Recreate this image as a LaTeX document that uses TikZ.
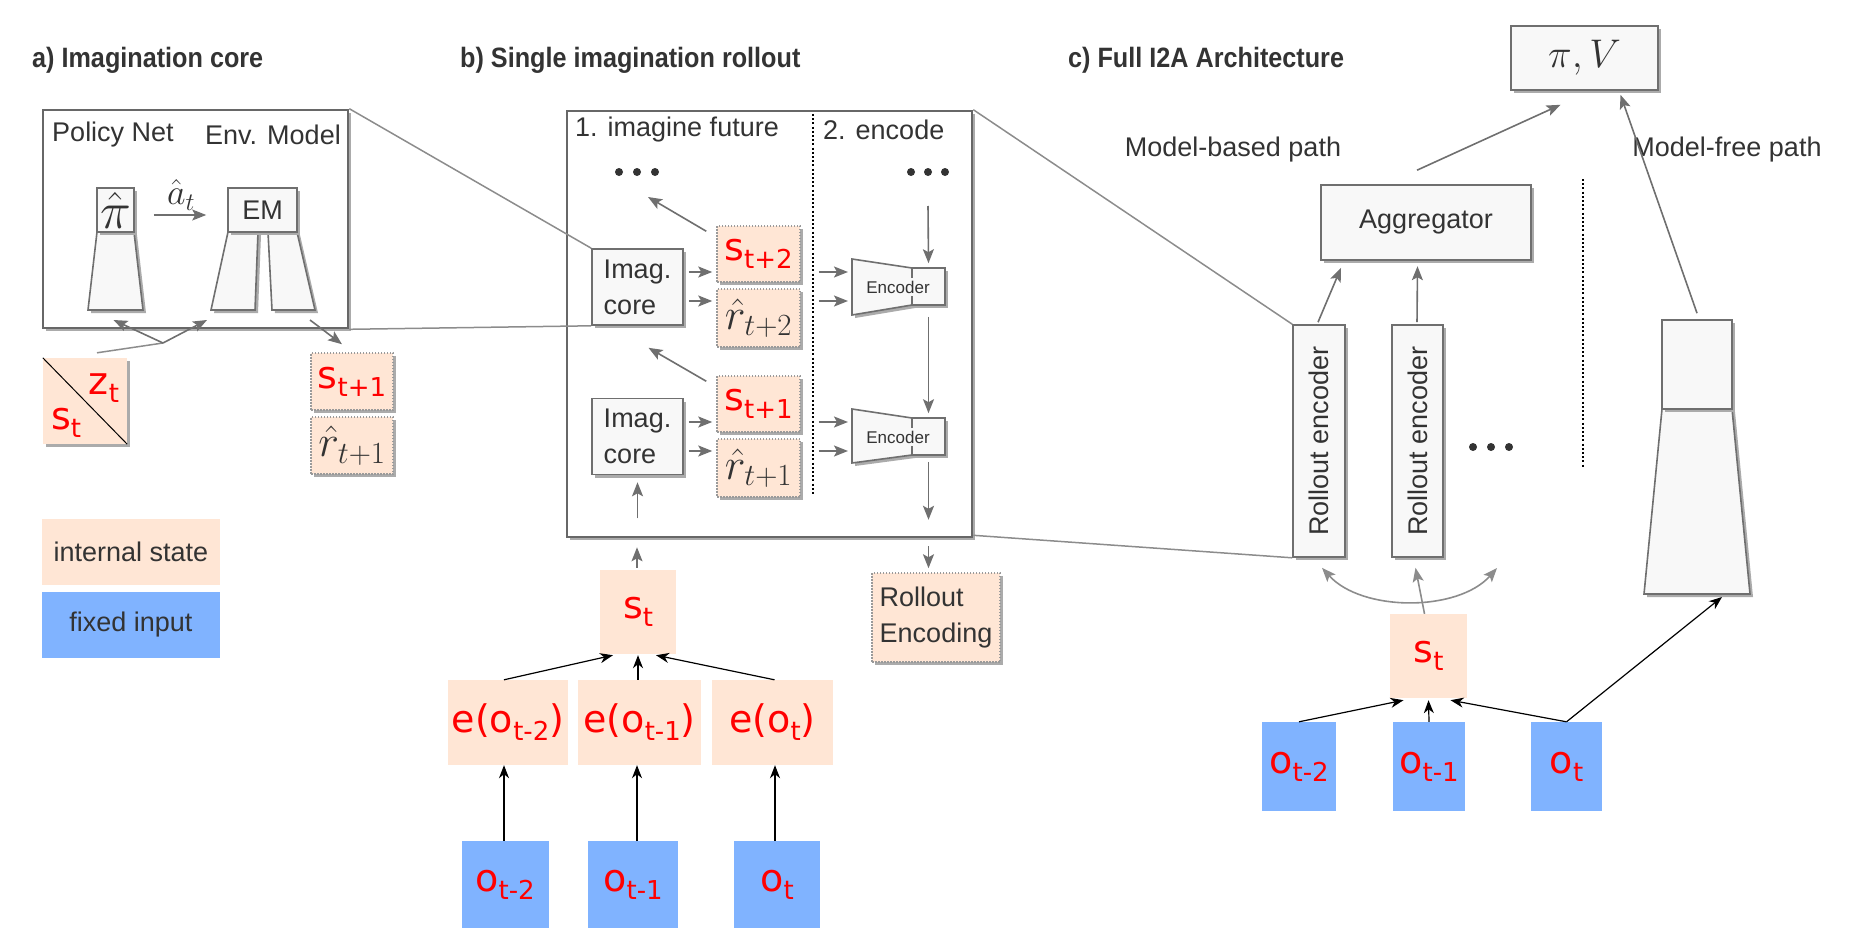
\RequirePackage{fix-cm}
\documentclass[tikz,border=0pt]{standalone}
\usepackage[no-math]{fontspec}
\setmainfont{Liberation Sans}
\newfontfamily\redfont{DejaVu Sans}
\newfontfamily\titlefont{Liberation Sans}[FakeStretch=0.9]
\usetikzlibrary{arrows.meta,shadows,calc}
\definecolor{peach}{HTML}{FFE6D5}
\definecolor{fixblue}{HTML}{80B3FF}
\definecolor{bxfill}{HTML}{F8F8F8}
\definecolor{bxline}{HTML}{6F6F6F}
\definecolor{framegray}{HTML}{676767}
\definecolor{linkgray}{HTML}{8C8C8C}
\definecolor{dotgray}{HTML}{9A9A9A}
\definecolor{shadowgray}{HTML}{ABABAB}
\definecolor{txt}{HTML}{333333}
\definecolor{redlab}{HTML}{FF0000}
\newcommand\rsub[1]{\raisebox{-8pt}{\fontsize{26}{26}\selectfont #1}}
\newcommand\rlab{\redfont\fontsize{38}{40}\selectfont\color{redlab}}
\begin{document}
\begin{tikzpicture}[x=1pt,y=-1pt,
  myshadow/.style={general shadow={shadow xshift=3pt,shadow yshift=-3pt,fill=shadowgray}},
  graybox/.style={draw=bxline,line width=1.6pt,fill=bxfill,myshadow,inner sep=0pt,text=txt,font=\fontsize{27}{32}\selectfont},
  trap/.style={draw=bxline,line width=1.6pt,fill=bxfill,myshadow},
  bigframe/.style={draw=framegray,line width=2.6pt,fill=white,myshadow,inner sep=0pt},
  dotbox/.style={draw=dotgray,line width=1.5pt,dash pattern=on 1.5pt off 1.5pt,fill=peach,myshadow,inner sep=0pt},
  peachbox/.style={fill=peach,inner sep=0pt},
  bluebox/.style={fill=fixblue,inner sep=0pt},
  lbl/.style={text=txt,font=\fontsize{27}{32}\selectfont,inner sep=0pt},
  ttl/.style={text=txt,font=\titlefont\bfseries\fontsize{28}{32}\selectfont,inner sep=0pt,anchor=west},
  garrow/.style={draw=bxline,line width=1.6pt,-{Stealth[length=14pt,width=11pt,inset=3pt]}},
  gdarrow/.style={draw=linkgray,line width=1.6pt,{Stealth[length=14pt,width=11pt,inset=3pt]}-{Stealth[length=14pt,width=11pt,inset=3pt]}},
  barrow/.style={draw=black,line width=1.2pt,-{Stealth[length=13pt,width=10pt,inset=4pt]}},
  glink/.style={draw=linkgray,line width=1.5pt},
  dotline/.style={draw=black,line width=2pt,dash pattern=on 2pt off 2.2pt},
  mathbig/.style={text=txt,font=\fontsize{44}{44}\selectfont},
]
\useasboundingbox (0,0) rectangle (1870,931);

% ---------- titles
\node[ttl] (ta) at (32,60) {a) Imagination core};
\node[ttl] (tb) at (460,60) {b) Single imagination rollout};
\node[ttl] (tc) at (1068,60) {c) Full I2A Architecture};

% ---------- frames
\node[bigframe,minimum width=305pt,minimum height=218pt] (boxA) at (195.5,219) {};
\node[bigframe,minimum width=405pt,minimum height=426pt] (boxB) at (769.5,324) {};

% ================= a) Imagination core
\node[lbl] (pn) at (113,135) {Policy Net};
\node[lbl] (envm) at (273,135) {Env. Model};
\filldraw[trap] (97,232) -- (134,232) -- (143,310) -- (88,310) -- cycle;
\node[graybox,minimum width=37pt,minimum height=44pt,font=\fontsize{52}{52}\selectfont] (pihat) at (115.5,210) {$\hat\pi$};
\filldraw[trap] (228,232) -- (258,232) -- (255,310) -- (211,310) -- cycle;
\filldraw[trap] (268,232) -- (297,232) -- (315,310) -- (272,310) -- cycle;
\node[graybox,minimum width=69pt,minimum height=44pt] (em) at (262.5,210) {EM};
\draw[garrow] ($(pihat.east)+(19,5)$) -- ($(em.west)+(-21,5)$);
\node[text=txt,font=\fontsize{36}{36}\selectfont,inner sep=0pt] (ahat) at (181,195) {$\hat a_t$};
\coordinate (pibot) at (115.5,310);
\coordinate (emLbot) at (233,310);
\coordinate (emRbot) at (300,310);

% s_t / z_t
\node[peachbox,myshadow,minimum width=84pt,minimum height=86pt] (sz) at (85,401) {};
\draw[black,line width=1pt] (sz.north west) -- (sz.south east);
\node[inner sep=0pt] (zt) at (104,388) {\rlab z\rsub{t}};
\node[inner sep=0pt] (st0) at (66,423) {\rlab s\rsub{t}};
\coordinate (junc) at (163,343);
\draw[glink] ($(sz.north)+(12,-5)$) -- (junc);
\draw[garrow] (junc) -- ($(pibot)+(-2,10)$);
\draw[garrow] (junc) -- ($(emLbot)+(-26,10)$);

% outputs of env model
\node[dotbox,minimum width=82pt,minimum height=57pt] (sa1) at (352,381.5) {\rlab s\rsub{t+1}};
\node[dotbox,minimum width=82pt,minimum height=57pt,mathbig] (ra1) at (352,445.5) {$\hat r_{t+1}$};
\draw[garrow] ($(emRbot)+(10,10)$) -- ($(sa1.north)+(-10,-8)$);

% legend
\node[peachbox,minimum width=178pt,minimum height=66pt,lbl] (leg1) at (131,552) {internal state};
\node[bluebox,minimum width=178pt,minimum height=66pt,lbl] (leg2) at (131,625) {fixed input};

% ================= b) Single imagination rollout
\draw[dotline] (813,114) -- (813,496);
\node[lbl,anchor=west] (imf) at (575,130) {1. imagine future};
\node[lbl,anchor=west] (enc) at (823,130) {2. encode};
\fill[txt] (619,172) circle (4) (637,172) circle (4) (655,172) circle (4);
\fill[txt] (911,172) circle (4) (928,172) circle (4) (945,172) circle (4);
\coordinate (dotsB) at (637,172);
\coordinate (dotsE) at (928,172);

\node[graybox,minimum width=91pt,minimum height=76pt,align=left,font=\fontsize{27}{36}\selectfont] (core2) at (637.5,287) {Imag.\\core};
\node[graybox,minimum width=91pt,minimum height=76pt,align=left,font=\fontsize{27}{36}\selectfont] (core1) at (637.5,436.5) {Imag.\\core};

\node[dotbox,minimum width=83pt,minimum height=56pt] (st2) at (758.5,254) {\rlab s\rsub{t+2}};
\node[dotbox,minimum width=83pt,minimum height=58pt,mathbig] (rt2) at (758.5,318) {$\hat r_{t+2}$};
\node[dotbox,minimum width=83pt,minimum height=56pt] (st1) at (758.5,404) {\rlab s\rsub{t+1}};
\node[dotbox,minimum width=83pt,minimum height=58pt,mathbig] (rt1) at (758.5,468) {$\hat r_{t+1}$};

\draw[garrow] ($(core2.east)+(5,-15)$) -- ($(st2.west)+(-4,18)$);
\draw[garrow] ($(core2.east)+(5,14)$) -- ($(rt2.west)+(-4,-17)$);
\draw[garrow] ($(core1.east)+(5,-14.5)$) -- ($(st1.west)+(-4,18)$);
\draw[garrow] ($(core1.east)+(5,14.5)$) -- ($(rt1.west)+(-4,-17)$);
\draw[garrow] ($(st2.north west)+(-10,6)$) -- ($(dotsB)+(11,25)$);
\draw[garrow] ($(st1.north west)+(-10,6)$) -- ($(core2.south)+(11,22)$);

% encoders
\filldraw[trap] (852,259) -- (912,268) -- (912,305) -- (852,315) -- cycle;
\node[graybox,minimum width=33pt,minimum height=37pt] (enc2) at (928.5,286.5) {};
\filldraw[trap] (852,409) -- (912,418) -- (912,455) -- (852,463) -- cycle;
\node[graybox,minimum width=33pt,minimum height=37pt] (enc1) at (928.5,436.5) {};
\fill[bxfill] (905,278) rectangle (919,296);
\fill[bxfill] (905,428) rectangle (919,446);
\node[text=txt,font=\fontsize{17}{17}\selectfont,inner sep=0pt] (encL2) at (898,287) {Encoder};
\node[text=txt,font=\fontsize{17}{17}\selectfont,inner sep=0pt] (encL1) at (898,437) {Encoder};
\coordinate (enc2in) at (852,287);
\coordinate (enc1in) at (852,436);
\draw[garrow] ($(st2.east)+(18,18)$) -- ($(enc2in)+(-4,-15)$);
\draw[garrow] ($(rt2.east)+(18,-17)$) -- ($(enc2in)+(-4,14)$);
\draw[garrow] ($(st1.east)+(18,18)$) -- ($(enc1in)+(-4,-14)$);
\draw[garrow] ($(rt1.east)+(18,-17)$) -- ($(enc1in)+(-4,15)$);
\draw[garrow] ($(dotsE)+(0,34)$) -- ($(enc2.north)+(0,-4)$);
\draw[garrow] ($(enc2.south)+(0,11)$) -- ($(enc1.north)+(0,-4)$);
\draw[garrow] ($(enc1.south)+(0,6)$) -- ($(enc1.south)+(0,64)$);

\node[dotbox,minimum width=128pt,minimum height=89pt,lbl,align=left,font=\fontsize{27}{36}\selectfont] (RE) at (936,617.5) {Rollout\\Encoding};
\draw[garrow] ($(boxB.south -| enc1.south)+(0,8)$) -- ($(RE.north -| enc1.south)+(0,-4)$);

% inputs b
\node[peachbox,minimum width=76pt,minimum height=84pt] (stb) at (638,612) {\rlab s\rsub{t}};
\node[peachbox,minimum width=120pt,minimum height=85pt] (eo2) at (508,722.5) {\rlab e(o\rsub{t-2})};
\node[peachbox,minimum width=123pt,minimum height=85pt] (eo1) at (639.5,722.5) {\rlab e(o\rsub{t-1})};
\node[peachbox,minimum width=121pt,minimum height=85pt] (eo0) at (772.5,722.5) {\rlab e(o\rsub{t})};
\node[bluebox,minimum width=87pt,minimum height=87pt] (ob2) at (505,884.5) {\rlab o\rsub{t-2}};
\node[bluebox,minimum width=90pt,minimum height=87pt] (ob1) at (633,884.5) {\rlab o\rsub{t-1}};
\node[bluebox,minimum width=86pt,minimum height=87pt] (ob0) at (777,884.5) {\rlab o\rsub{t}};
\draw[barrow] (ob2.north -| 504,0) -- (eo2.south -| 504,0);
\draw[barrow] (ob1.north -| 637,0) -- (eo1.south -| 637,0);
\draw[barrow] (ob0.north -| 775,0) -- (eo0.south -| 775,0);
\draw[barrow] ($(eo2.north)+(-4,0)$) -- ($(stb.south)+(-25,1)$);
\draw[barrow] ($(stb.south |- eo1.north)$) -- ($(stb.south)+(0,1)$);
\draw[barrow] ($(eo0.north)+(2,0)$) -- ($(stb.south)+(18,1)$);
\draw[garrow] ($(stb.north)+(-1,-2)$) -- ($(stb.north |- boxB.south)+(-1,9)$);
\draw[garrow] ($(core1.south)+(0,43)$) -- ($(core1.south)+(0,7)$);

% ================= c) Full I2A architecture
\node[graybox,minimum width=147pt,minimum height=64pt,font=\fontsize{40}{40}\selectfont] (piV) at (1584.5,58) {$\pi, V$};
\node[graybox,minimum width=210pt,minimum height=75pt] (agg) at (1426,222.5) {Aggregator};
\node[graybox,minimum width=52pt,minimum height=232pt] (re1) at (1319,441) {\rotatebox{90}{Rollout encoder}};
\node[graybox,minimum width=51pt,minimum height=232pt] (re2) at (1417.5,441) {\rotatebox{90}{Rollout encoder}};
\fill[txt] (1473,447) circle (4) (1491,447) circle (4) (1509,447) circle (4);
\coordinate (curveR) at (1497,568);
\node[lbl] (mbp) at (1233,150) {Model-based path};
\node[lbl] (mfp) at (1727,150) {Model-free path};
\draw[dotline] (1583,179) -- (1583,468);

% tower
\filldraw[trap] (1662,409) -- (1732,409) -- (1750,594) -- (1644,594) -- cycle;
\node[graybox,minimum width=70pt,minimum height=89pt] (tow) at (1697,364.5) {};
\coordinate (towb) at (1697,594);

\draw[garrow] ($(agg.north)+(-9,-14)$) -- ($(piV.south)+(-24,14)$);
\draw[garrow] ($(tow.north)+(0,-6)$) -- ($(piV.south)+(36,4)$);
\draw[garrow] ($(re1.north)+(-1,-2)$) -- ($(agg.south)+(-85,7)$);
\draw[garrow] ($(re2.north)+(-0.5,-2)$) -- ($(agg.south |- re2.north)+(-8.5,-58)$);

\node[peachbox,minimum width=77pt,minimum height=84pt] (stc) at (1428.5,656) {\rlab s\rsub{t}};
\node[bluebox,minimum width=74pt,minimum height=89pt] (oc2) at (1299,766.5) {\rlab o\rsub{t-2}};
\node[bluebox,minimum width=72pt,minimum height=89pt] (oc1) at (1429,766.5) {\rlab o\rsub{t-1}};
\node[bluebox,minimum width=71pt,minimum height=89pt] (oc0) at (1566.5,766.5) {\rlab o\rsub{t}};
\draw[barrow] (oc2.north) -- ($(stc.south)+(-25,2)$);
\draw[barrow] (oc1.north) -- ($(stc.south)+(0,2)$);
\draw[barrow] (oc0.north) -- ($(stc.south)+(22,2)$);
\draw[black,line width=1.2pt,-{Stealth[length=13pt,width=10pt,inset=4pt]}] (oc0.north) -- ($(towb)+(25,3)$);
\draw[gdarrow] ($(re1.south)+(3,10)$) .. controls (1362,612) and (1458,612) .. (curveR);
\draw[draw=linkgray,line width=1.6pt,-{Stealth[length=14pt,width=11pt,inset=3pt]}] ($(stc.north)+(-4,0)$) -- ($(re2.south)+(-2,10)$);

% links between panels
\draw[glink] (boxA.north east) -- (core2.north west);
\draw[glink] (boxA.south east) -- (core2.south west);
\draw[glink] (boxB.north east) -- (re1.north west);
\draw[glink] ($(boxB.south east)+(0,-3)$) -- (re1.south west);
\end{tikzpicture}
\end{document}
